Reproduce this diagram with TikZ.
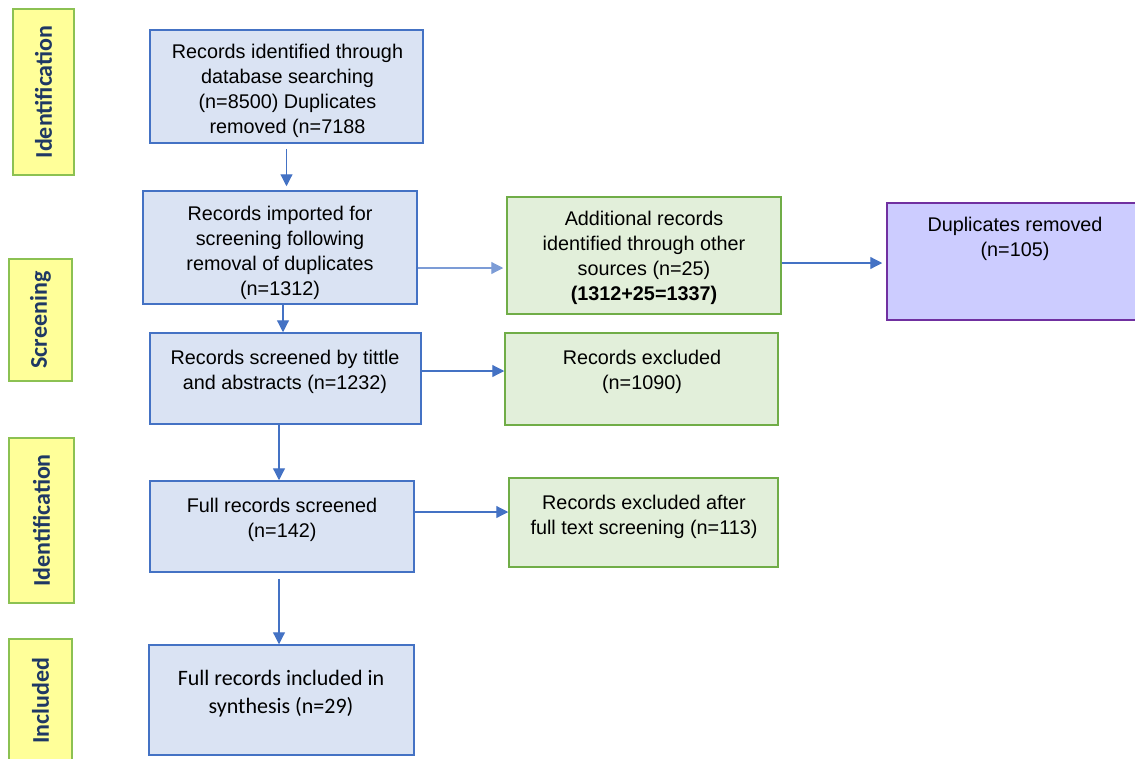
\documentclass[tikz,border=0pt]{standalone}
\usepackage{fontspec}
\setmainfont{Liberation Sans}
\newfontfamily\carlito{Carlito}
\usetikzlibrary{arrows.meta,positioning}

\definecolor{boxblue}{HTML}{DAE3F3}
\definecolor{lineblue}{HTML}{4472C4}
\definecolor{boxgreen}{HTML}{E2EFDA}
\definecolor{linegreen}{HTML}{70AD47}
\definecolor{boxpurple}{HTML}{CCCCFF}
\definecolor{linepurple}{HTML}{7030A0}
\definecolor{tagyellow}{HTML}{FFFF99}
\definecolor{taggreen}{HTML}{8CC152}
\definecolor{tagnavy}{HTML}{1F3864}

\tikzset{
  stage/.style={draw=taggreen, fill=tagyellow, line width=2pt, rotate=90, inner sep=0pt,
    font=\carlito\bfseries\fontsize{24}{28}\selectfont, text=tagnavy},
  bluebox/.style={draw=lineblue, fill=boxblue, line width=1.5pt, inner sep=0pt},
  greenbox/.style={draw=linegreen, fill=boxgreen, line width=1.5pt, inner sep=0pt},
  purplebox/.style={draw=linepurple, fill=boxpurple, line width=1.5pt, inner sep=0pt},
  boxtext/.style={align=center, anchor=north, inner sep=0pt, font=\fontsize{19.8}{25}\selectfont},
  flow/.style={draw=lineblue, line width=1.2pt, -{Triangle[length=12pt,width=12pt]}}
}

\begin{document}
\begin{tikzpicture}[x=1pt,y=-1pt]
\useasboundingbox (0,0) rectangle (1135,758);
\clip (0,0) rectangle (1135,758);

% stage tags on the left
\node[stage, minimum width=166pt, minimum height=61pt] (S1) at (43.5,92) {Identification};
\node[stage, minimum width=122pt, minimum height=63pt] (S2) at (40.5,320) {Screening};
\node[stage, minimum width=165pt, minimum height=65pt] (S3) at (41.5,520.5) {Identification};
\node[stage, minimum width=123pt, minimum height=63pt] (S4) at (40.5,700.5) {Included};

% main column
\node[bluebox, minimum width=273pt, minimum height=113pt] (B1) at (286.5,86.5) {};
\node[bluebox, minimum width=274pt, minimum height=113pt] (B2) at (280,247.5) {};
\node[bluebox, minimum width=271pt, minimum height=91pt] (B3) at (285.5,378.5) {};
\node[bluebox, minimum width=264pt, minimum height=91pt] (B4) at (282,526.5) {};
\node[bluebox, minimum width=265pt, minimum height=110pt] (B5) at (281.5,700) {};

% side boxes
\node[greenbox, minimum width=274pt, minimum height=117pt] (G1) at (644,255.5) {};
\node[greenbox, minimum width=273pt, minimum height=92pt] (G2) at (641.5,379) {};
\node[greenbox, minimum width=269pt, minimum height=89pt] (G3) at (643.5,522.5) {};
\node[purplebox, minimum width=253pt, minimum height=117pt] (P1) at (1013.5,261.5) {};

% texts
\node[boxtext] (T1) at (287.5,43.5) {Records identified through\\database searching\\(n=8500) Duplicates\\removed (n=7188};
\node[boxtext] (T2) at (280,205.5) {Records imported for\\screening following\\removal of duplicates\\(n=1312)};
\node[boxtext] (T3) at (285,349.5) {Records screened by tittle\\and abstracts (n=1232)};
\node[boxtext] (T4) at (282,497.5) {Full records screened\\(n=142)};
\node[boxtext, font=\carlito\fontsize{22}{28}\selectfont] (T5) at (281,670) {Full records included in\\synthesis (n=29)};
\node[boxtext] (TG1) at (644,210.5) {Additional records\\identified through other\\sources (n=25)\\\textbf{(1312+25=1337)}};
\node[boxtext] (TG2) at (642,349.5) {Records excluded\\(n=1090)};
\node[boxtext] (TG3) at (644,494.5) {Records excluded after\\full text screening (n=113)};
\node[boxtext] (TP1) at (1015,216.5) {Duplicates removed\\(n=105)};

% arrows
\draw[flow, shorten <=5pt, shorten >=4pt] (B1.south) -- (B1.south |- B2.north);
\draw[flow] ([xshift=3pt]B2.south) -- ([xshift=3pt]B2.south |- B3.north);
\draw[flow] ([xshift=-6.5pt]B3.south) -- ([xshift=-6.5pt]B3.south |- B4.north);
\draw[flow, shorten <=6pt] ([xshift=-3pt]B4.south) -- ([xshift=-3pt]B4.south |- B5.north);
\draw[flow, draw=lineblue!70, shorten >=3pt] ([yshift=-20.5pt]B2.east) -- ([yshift=-20.5pt]B2.east -| G1.west);
\draw[flow, shorten >=4pt] ([yshift=-7.5pt]G1.east) -- ([yshift=-7.5pt]G1.east -| P1.west);
\draw[flow] ([yshift=7.5pt]B3.east) -- ([yshift=7.5pt]B3.east -| G2.west);
\draw[flow] ([yshift=14.5pt]B4.east) -- ([yshift=14.5pt]B4.east -| G3.west);
\end{tikzpicture}
\end{document}
